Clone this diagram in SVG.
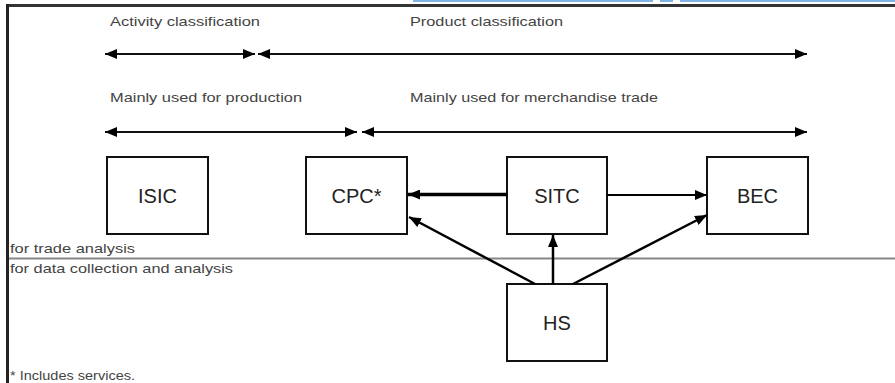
<svg xmlns="http://www.w3.org/2000/svg" width="895" height="383" viewBox="0 0 895 383">
<defs>
<marker id="ah" viewBox="0 0 12 10" refX="12" refY="5" markerWidth="12" markerHeight="10" markerUnits="userSpaceOnUse" orient="auto-start-reverse">
<path d="M0,0 L12,5 L0,10 z" fill="#000"/>
</marker>
<style>
.lbl{font-family:"Liberation Sans",Arial,sans-serif;font-size:13.5px;fill:#444}
.nt{font-family:"Liberation Sans",Arial,sans-serif;font-size:20px;fill:#222;text-anchor:middle}
.box{fill:#fff;stroke:#111;stroke-width:2}
.span{stroke:#111;stroke-width:2;fill:none;marker-start:url(#ah);marker-end:url(#ah)}
.con{stroke:#000;fill:none;marker-end:url(#ah)}
</style>
</defs>
<rect x="0" y="0" width="895" height="383" fill="#fff"/>
<g id="artifact" stroke="#7fb2e5" stroke-width="2">
<line x1="413" y1="1" x2="653" y2="1"/>
<line x1="660" y1="1" x2="673" y2="1"/>
<line x1="680" y1="1" x2="895" y2="1"/>
</g>
<g id="frame">
<line x1="6" y1="5.5" x2="895" y2="5.5" stroke="#333" stroke-width="3"/>
<line x1="7.5" y1="4" x2="7.5" y2="383" stroke="#222" stroke-width="3"/>
<line x1="9" y1="258.5" x2="895" y2="258.5" stroke="#888" stroke-width="2"/>
</g>
<g id="labels">
<text class="lbl" x="110" y="26" textLength="150" lengthAdjust="spacingAndGlyphs">Activity classification</text>
<text class="lbl" x="410" y="26" textLength="153" lengthAdjust="spacingAndGlyphs">Product classification</text>
<text class="lbl" x="110" y="102" textLength="192" lengthAdjust="spacingAndGlyphs">Mainly used for production</text>
<text class="lbl" x="410" y="102" textLength="248" lengthAdjust="spacingAndGlyphs">Mainly used for merchandise trade</text>
<text class="lbl" x="10" y="252.5" textLength="125" lengthAdjust="spacingAndGlyphs">for trade analysis</text>
<text class="lbl" x="10" y="273" textLength="223" lengthAdjust="spacingAndGlyphs">for data collection and analysis</text>
<text class="lbl" x="10" y="380" textLength="125" lengthAdjust="spacingAndGlyphs">* Includes services.</text>
</g>
<g id="spans">
<line class="span" x1="105" y1="54" x2="255" y2="54"/>
<line class="span" x1="258" y1="54" x2="807" y2="54"/>
<line class="span" x1="105" y1="132" x2="357" y2="132"/>
<line class="span" x1="362" y1="132" x2="807" y2="132"/>
</g>
<g id="node-isic">
<rect class="box" x="107" y="157" width="101" height="77"/>
<text class="nt" x="157.5" y="203">ISIC</text>
</g>
<g id="node-cpc">
<rect class="box" x="306" y="157" width="101" height="77"/>
<text class="nt" x="356.5" y="203">CPC*</text>
</g>
<g id="node-sitc">
<rect class="box" x="507" y="157" width="100" height="77"/>
<text class="nt" x="557" y="203">SITC</text>
</g>
<g id="node-bec">
<rect class="box" x="707" y="157" width="101" height="77"/>
<text class="nt" x="757.5" y="203">BEC</text>
</g>
<g id="node-hs">
<rect class="box" x="507" y="284" width="100" height="77"/>
<text class="nt" x="557" y="330">HS</text>
</g>
<g id="connectors">
<line class="con" stroke-width="3.5" x1="507" y1="194.5" x2="408" y2="194.5"/>
<line class="con" stroke-width="2" stroke="#222" x1="607" y1="195" x2="707" y2="195"/>
<line class="con" stroke-width="2.5" x1="535" y1="284" x2="409" y2="217"/>
<line class="con" stroke-width="2.5" x1="553" y1="284" x2="553" y2="235"/>
<line class="con" stroke-width="2.5" x1="573" y1="284" x2="707" y2="215"/>
</g>
</svg>
